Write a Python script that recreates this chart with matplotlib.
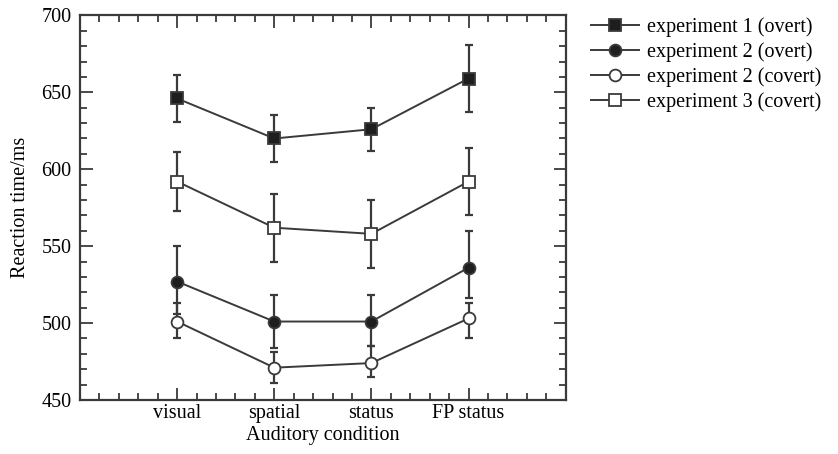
import matplotlib
matplotlib.use('Agg')
import matplotlib.pyplot as plt
from matplotlib.ticker import MultipleLocator
import numpy as np

plt.rcParams['font.family'] = ['Liberation Serif', 'DejaVu Serif']
plt.rcParams['mathtext.fontset'] = 'stix'

conditions = ['visual', 'spatial', 'status', 'FP status']

# mean reaction times and error bar ends
exp1_overt = [646, 620, 626, 659]
exp1_overt_hi = [661, 635, 640, 681]
exp1_overt_lo = [631, 605, 612, 637]

exp2_overt = [527, 501, 501, 536]
exp2_overt_hi = [550, 518, 518, 560]
exp2_overt_lo = [506, 484, 485, 516]

exp2_covert = [501, 471, 474, 503]
exp2_covert_hi = [513, 481, 485, 513]
exp2_covert_lo = [490, 461, 465, 490]

exp3_covert = [592, 562, 558, 592]
exp3_covert_hi = [611, 584, 580, 614]
exp3_covert_lo = [573, 540, 536, 570]

line_col = '#3a3a3a'
fill_col = '#1e1e1e'

fig = plt.figure(figsize=(8.38, 4.54), dpi=100)
ax = fig.add_axes([0.0955, 0.119, 0.5795, 0.847])

x = np.arange(1, len(conditions) + 1)

series = [
    (exp1_overt, exp1_overt_lo, exp1_overt_hi, 's', fill_col, 'experiment 1 (overt)'),
    (exp2_overt, exp2_overt_lo, exp2_overt_hi, 'o', fill_col, 'experiment 2 (overt)'),
    (exp2_covert, exp2_covert_lo, exp2_covert_hi, 'o', 'white', 'experiment 2 (covert)'),
    (exp3_covert, exp3_covert_lo, exp3_covert_hi, 's', 'white', 'experiment 3 (covert)'),
]

for y, lo, hi, m, fc, lab in series:
    y = np.array(y)
    err = [y - np.array(lo), np.array(hi) - y]
    ax.errorbar(x, y, yerr=err, fmt='none', ecolor=line_col, elinewidth=1.6,
                capsize=3, capthick=1.6, zorder=2)
    ax.plot(x, y, color=line_col, linewidth=1.4, marker=m, markersize=8.5,
            markerfacecolor=fc, markeredgecolor=line_col, markeredgewidth=1.3,
            label=lab, zorder=3)

ax.set_xlim(0, 5)
ax.set_ylim(450, 700)
ax.set_xticks(x)
ax.set_xticklabels(conditions)
ax.xaxis.set_minor_locator(MultipleLocator(0.2))
ax.yaxis.set_major_locator(MultipleLocator(50))
ax.yaxis.set_minor_locator(MultipleLocator(10))

ax.tick_params(which='both', direction='in', top=True, right=True,
               color=line_col, width=1.3, labelsize=14.5, pad=6)
ax.tick_params(axis='x', pad=3)
ax.tick_params(which='major', length=9)
ax.tick_params(which='minor', length=5)
for s in ax.spines.values():
    s.set_color(line_col)
    s.set_linewidth(1.6)

ax.set_xlabel('Auditory condition', fontsize=14.5, labelpad=2)
ax.set_ylabel('Reaction time/ms', fontsize=14.5, labelpad=8)

ax.legend(loc='upper left', bbox_to_anchor=(1.035, 1.015), frameon=False,
          fontsize=14.5, handlelength=2.4, handletextpad=0.4, labelspacing=0.26,
          borderaxespad=0)

fig.savefig('out.png', dpi=100)
